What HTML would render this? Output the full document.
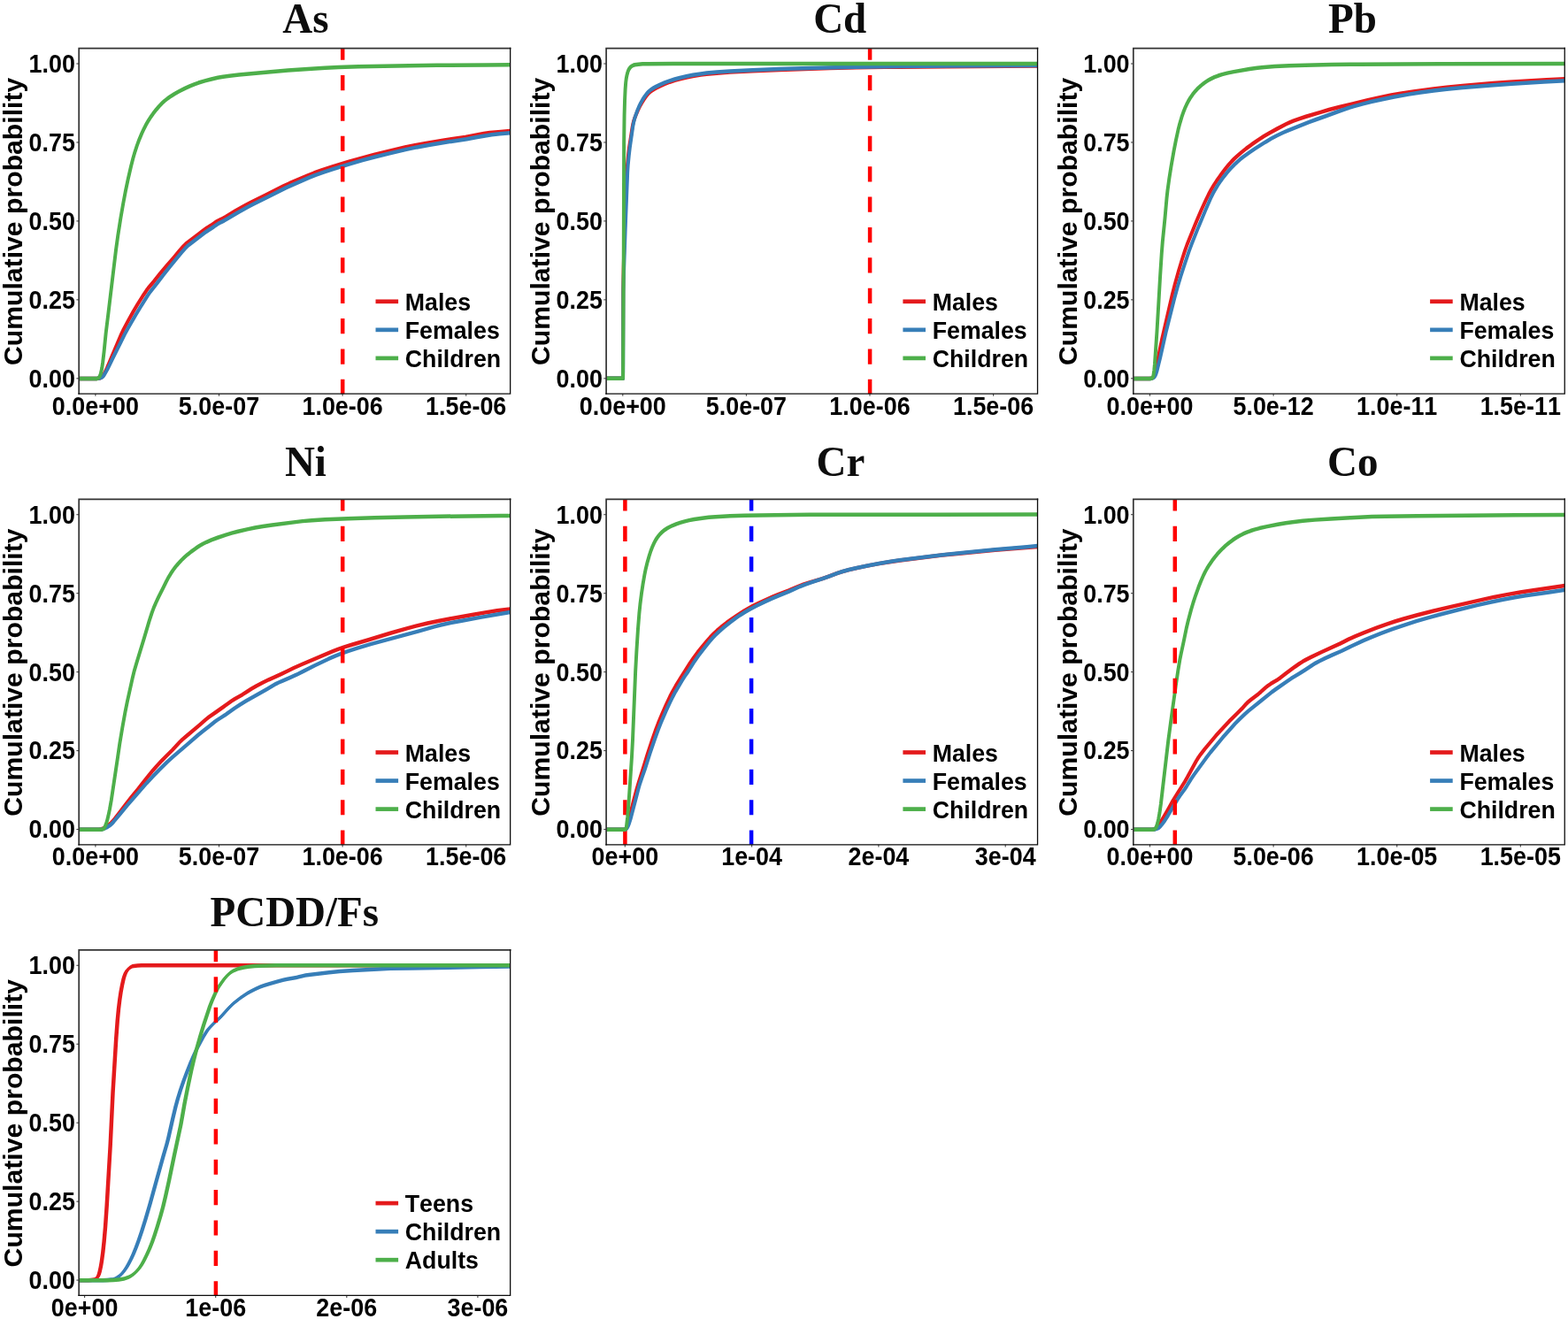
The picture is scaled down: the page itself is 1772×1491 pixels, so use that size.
<!DOCTYPE html>
<html lang="en"><head><meta charset="utf-8"><title>Cumulative probability of carcinogenic risk</title>
<style>
html,body{margin:0;padding:0;background:#fff}
body{width:1772px;height:1491px;overflow:hidden}
svg{display:block}
text{font-family:"Liberation Sans",sans-serif;font-weight:700;fill:#000;font-kerning:none}
.ttl{font-family:"Liberation Serif",serif;font-size:47.0px;text-anchor:middle;fill:#0d0d0d}
.ylab{font-size:30.2px;text-anchor:middle}
.ytk{font-size:26.6px;text-anchor:end}
.xtk{font-size:26.6px;text-anchor:middle}
.lg{font-size:26.6px}
.tk{stroke:#444;stroke-width:1.1}
.bx{fill:none;stroke:#333;stroke-width:1.7}
.bx2{fill:none;stroke:#0d0d0d;stroke-width:1.3}
.ln{fill:none;stroke-width:4.5;stroke-linejoin:round;stroke-linecap:butt}
.bd{stroke:none}
.vl{stroke-width:4.5;stroke-dasharray:17.2 17.18}
.lk{stroke-width:4.7}
</style></head>
<body>
<svg width="1772" height="1491" viewBox="0 0 1772 1491" role="img" aria-label="Cumulative probability curves">
<rect width="1772" height="1491" fill="#fff"/>
<g class="panel">
<text class="ttl" transform="translate(345.4 36.8) scale(1 1.03)">As</text>
<text class="ylab" transform="translate(25 250.4) rotate(-90)">Cumulative probability</text>
<line class="tk" x1="86.4" x2="89.2" y1="72" y2="72"/>
<text class="ytk" transform="translate(85 81.9) scale(1.012 1.1)">1.00</text>
<line class="tk" x1="86.4" x2="89.2" y1="160.95" y2="160.95"/>
<text class="ytk" transform="translate(85 170.85) scale(1.012 1.1)">0.75</text>
<line class="tk" x1="86.4" x2="89.2" y1="249.9" y2="249.9"/>
<text class="ytk" transform="translate(85 259.8) scale(1.012 1.1)">0.50</text>
<line class="tk" x1="86.4" x2="89.2" y1="338.85" y2="338.85"/>
<text class="ytk" transform="translate(85 348.75) scale(1.012 1.1)">0.25</text>
<line class="tk" x1="86.4" x2="89.2" y1="427.8" y2="427.8"/>
<text class="ytk" transform="translate(85 437.7) scale(1.012 1.1)">0.00</text>
<line class="tk" x1="107.9" x2="107.9" y1="445" y2="447.8"/>
<text class="xtk" transform="translate(107.9 468.7) scale(1.012 1.1)">0.0e+00</text>
<line class="tk" x1="247.5" x2="247.5" y1="445" y2="447.8"/>
<text class="xtk" transform="translate(247.5 468.7) scale(1.012 1.1)">5.0e-07</text>
<line class="tk" x1="387.1" x2="387.1" y1="445" y2="447.8"/>
<text class="xtk" transform="translate(387.1 468.7) scale(1.012 1.1)">1.0e-06</text>
<line class="tk" x1="526.7" x2="526.7" y1="445" y2="447.8"/>
<text class="xtk" transform="translate(526.7 468.7) scale(1.012 1.1)">1.5e-06</text>
<clipPath id="cAs"><rect x="89.2" y="54.6" width="487.4" height="390.4"/></clipPath>
<g clip-path="url(#cAs)">
<g class="cv" transform="scale(0.88 1)">
<path class="ln" d="M101.36,428 123.6,427.98 125.32,427.85 127.27,427.6 128.67,427.24 130.25,426.54 131.45,425.7 132.48,424.61 133.39,423.32 137.26,416.35 139.95,410.82 143.84,402.44 155.9,377.51 158.83,372.08 163.68,364.12 171.14,352.27 176.34,344.49 184.53,333.01 188.35,328.02 190.41,325.62 198.14,317.57 205.75,309.06 214.37,300.1 223.32,290.99 230.33,283.6 235.54,278.37 238.41,275.84 240.5,274.28 255.48,264.25 260.92,260.59 265.15,258.04 270.92,254.8 276.54,251.35 279.47,249.83 284.43,247.69 290.04,244.89 302.5,238.3 315.2,232.06 322.78,228.59 341.17,220.57 364.06,210.37 371.82,207.22 395.39,198.28 403.33,195.5 412.98,192.46 425.98,188.71 447.24,182.96 463.69,178.82 480.21,174.95 500.14,170.64 520.13,166.55 532.84,164.2 546.98,161.92 570.61,158.51 597.66,154.89 609.45,152.99 621.23,151.08 628.98,150.1 639.88,149.14 655.23,148" stroke="#e41a1c"/>
<path class="ln" d="M101.36,428 123.59,427.98 125.3,427.85 127.27,427.6 128.69,427.3 130.32,426.74 131.02,426.4 131.63,426.02 132.76,425.02 133.78,423.8 135.6,421.03 138.93,415.73 144.86,404.85 154.82,387.37 160.13,377.93 164.21,371.32 174.41,355.66 180.6,346.65 189.75,333.93 192.84,329.96 195.78,326.65 201.18,320.82 209.37,311.17 217.92,301.78 227.69,291.32 233.12,285.52 237.63,280.96 240,278.8 242.53,276.82 264.31,262.22 268.57,259.73 274.32,256.46 278.52,253.86 281.42,252.29 287.54,249.6 293.47,246.6 305,240.5 317.13,234.52 324.71,231.04 343.09,223.03 367.5,212.17 375.28,209.05 397.27,200.71 405.2,197.91 414.83,194.85 427.83,191.09 449.08,185.34 465.51,181.18 482.02,177.31 500.28,173.33 521.93,168.89 535.31,166.41 550.44,163.97 574.06,160.58 599.43,157.2 611.2,155.33 622.97,153.42 631.41,152.31 641.6,151.33 655.23,150.2" stroke="#377eb8"/>
<path class="ln" d="M101.36,428 124.66,428 125.21,427.9 126.66,426.97 127.84,425.6 128.51,424.45 129.12,423.04 130.04,420.02 131.03,415.61 131.99,409.64 133.57,397.68 135.95,376.71 138.89,355.81 145.6,306.51 148.88,282.61 151.47,266.22 154.89,246.9 158.09,230.59 161.28,215.81 164.44,202.55 168.27,187.88 170.81,179.14 173.18,171.92 175.84,164.75 178.8,157.71 182.1,150.75 185.01,145.28 188.16,139.97 190.76,136.08 193.56,132.27 196.54,128.57 200.72,123.84 204.07,120.38 207.62,117.06 211.36,114.01 215.32,111.25 219.53,108.66 223.92,106.23 229.92,103.24 237.51,99.86 243.76,97.34 250.13,95.05 254.96,93.55 263.1,91.4 271.39,89.46 279.77,87.81 286.51,86.73 294.93,85.7 306.81,84.55 344.33,81.59 369.87,79.54 395.44,77.88 417.63,76.63 434.71,75.93 460.34,75.35 525.3,74.31 561.2,73.75 624.45,73.42 655.23,73.3" stroke="#4daf4a"/>
</g>
<line class="vl" x1="387.2" x2="387.2" y1="446.05" y2="52.6" stroke="#ff0000"/>
</g>
<path class="bx" d="M89.2,445.7 V54.6 H577.4"/>
<path class="bx2" d="M88.4,445.1 H576.65 V53.8"/>
<line class="lk" x1="424.5" x2="450.1" y1="340.8" y2="340.8" stroke="#e41a1c"/>
<text class="lg" transform="translate(457.8 350.9) scale(1.005 1.04)">Males</text>
<line class="lk" x1="424.5" x2="450.1" y1="372.85" y2="372.85" stroke="#377eb8"/>
<text class="lg" transform="translate(457.8 382.95) scale(1.005 1.04)">Females</text>
<line class="lk" x1="424.5" x2="450.1" y1="404.9" y2="404.9" stroke="#4daf4a"/>
<text class="lg" transform="translate(457.8 415) scale(1.005 1.04)">Children</text>
</g>
<g class="panel">
<text class="ttl" transform="translate(949.2 36.8) scale(1 1.03)">Cd</text>
<text class="ylab" transform="translate(620.9 250.4) rotate(-90)">Cumulative probability</text>
<line class="tk" x1="682.3" x2="685.1" y1="72" y2="72"/>
<text class="ytk" transform="translate(680.9 81.9) scale(1.012 1.1)">1.00</text>
<line class="tk" x1="682.3" x2="685.1" y1="160.95" y2="160.95"/>
<text class="ytk" transform="translate(680.9 170.85) scale(1.012 1.1)">0.75</text>
<line class="tk" x1="682.3" x2="685.1" y1="249.9" y2="249.9"/>
<text class="ytk" transform="translate(680.9 259.8) scale(1.012 1.1)">0.50</text>
<line class="tk" x1="682.3" x2="685.1" y1="338.85" y2="338.85"/>
<text class="ytk" transform="translate(680.9 348.75) scale(1.012 1.1)">0.25</text>
<line class="tk" x1="682.3" x2="685.1" y1="427.8" y2="427.8"/>
<text class="ytk" transform="translate(680.9 437.7) scale(1.012 1.1)">0.00</text>
<line class="tk" x1="703.8" x2="703.8" y1="445" y2="447.8"/>
<text class="xtk" transform="translate(703.8 468.7) scale(1.012 1.1)">0.0e+00</text>
<line class="tk" x1="843.4" x2="843.4" y1="445" y2="447.8"/>
<text class="xtk" transform="translate(843.4 468.7) scale(1.012 1.1)">5.0e-07</text>
<line class="tk" x1="983" x2="983" y1="445" y2="447.8"/>
<text class="xtk" transform="translate(983 468.7) scale(1.012 1.1)">1.0e-06</text>
<line class="tk" x1="1122.6" x2="1122.6" y1="445" y2="447.8"/>
<text class="xtk" transform="translate(1122.6 468.7) scale(1.012 1.1)">1.5e-06</text>
<clipPath id="cCd"><rect x="685.1" y="54.6" width="487.4" height="390.4"/></clipPath>
<g clip-path="url(#cCd)">
<g class="cv" transform="scale(0.88 1)">
<path class="ln" d="M778.52,427.8 799.89,427.8 800,419.5 800.26,329.18 800.69,306.61 801.56,276.51 803.51,229.87 805.15,193.77 805.83,184.76 806.96,174.26 807.97,166.8 810.67,151.92 811.94,144.45 812.89,140.03 813.7,137.13 814.75,134.27 816.61,130.03 819.3,124.49 821.54,120.4 824.01,116.44 826.73,112.61 829.75,108.82 831.94,106.47 833.09,105.38 834.77,104 836.84,102.58 839.68,100.93 842.7,99.41 847.4,97.35 853.64,94.91 860.04,92.73 866.56,90.83 873.13,89.21 881.47,87.48 889.86,86.03 899.99,84.53 907.39,83.7 920.39,82.64 937.47,81.6 966.5,80.22 1000.69,78.94 1065.66,77.01 1099.86,76.24 1135.78,75.8 1214.46,75.23 1332.5,74.6" stroke="#e41a1c"/>
<path class="ln" d="M778.52,427.8 800.11,427.8 800.23,419.71 800.48,330.89 800.84,315.85 803.12,257.17 805.93,193.99 806.5,186.49 807.65,175.99 809.05,165.53 812.74,143.16 813.67,138.74 814.9,134.36 816.43,130.03 818.74,124.37 820.74,120.18 823.01,116.11 825.53,112.22 828.42,108.36 830.54,105.92 832.83,103.71 834.32,102.5 836.61,100.95 839.47,99.33 842.53,97.85 847.26,95.84 853.53,93.47 859.96,91.36 866.51,89.52 873.09,87.95 881.44,86.25 889.84,84.84 899.98,83.4 907.39,82.6 920.39,81.58 937.47,80.58 966.51,79.28 1000.7,78.08 1060.54,76.44 1098.16,75.65 1137.5,75.19 1221.31,74.6 1332.5,74" stroke="#377eb8"/>
<path class="ln" d="M778.52,427.8 800,427.8 800.2,410.63 800.92,276.86 801.3,162.64 801.78,131.08 802.34,113.05 802.96,101.02 803.61,93.53 804.22,89.05 805.2,84.59 806.07,81.73 806.66,80.26 807.38,78.81 808.23,77.46 809.32,76.2 810.35,75.36 811.81,74.44 813.42,73.71 815.04,73.29 819.97,72.72 825.16,72.36 832.07,72.18 864.52,72 1332.5,71.9" stroke="#4daf4a"/>
</g>
<line class="vl" x1="983.1" x2="983.1" y1="446.05" y2="52.6" stroke="#ff0000"/>
</g>
<path class="bx" d="M685.1,445.7 V54.6 H1173.3"/>
<path class="bx2" d="M684.3,445.1 H1172.55 V53.8"/>
<line class="lk" x1="1020.4" x2="1046" y1="340.8" y2="340.8" stroke="#e41a1c"/>
<text class="lg" transform="translate(1053.7 350.9) scale(1.005 1.04)">Males</text>
<line class="lk" x1="1020.4" x2="1046" y1="372.85" y2="372.85" stroke="#377eb8"/>
<text class="lg" transform="translate(1053.7 382.95) scale(1.005 1.04)">Females</text>
<line class="lk" x1="1020.4" x2="1046" y1="404.9" y2="404.9" stroke="#4daf4a"/>
<text class="lg" transform="translate(1053.7 415) scale(1.005 1.04)">Children</text>
</g>
<g class="panel">
<text class="ttl" transform="translate(1528.4 36.8) scale(1 1.03)">Pb</text>
<text class="ylab" transform="translate(1216.6 250.4) rotate(-90)">Cumulative probability</text>
<line class="tk" x1="1278" x2="1280.8" y1="72" y2="72"/>
<text class="ytk" transform="translate(1276.6 81.9) scale(1.012 1.1)">1.00</text>
<line class="tk" x1="1278" x2="1280.8" y1="160.95" y2="160.95"/>
<text class="ytk" transform="translate(1276.6 170.85) scale(1.012 1.1)">0.75</text>
<line class="tk" x1="1278" x2="1280.8" y1="249.9" y2="249.9"/>
<text class="ytk" transform="translate(1276.6 259.8) scale(1.012 1.1)">0.50</text>
<line class="tk" x1="1278" x2="1280.8" y1="338.85" y2="338.85"/>
<text class="ytk" transform="translate(1276.6 348.75) scale(1.012 1.1)">0.25</text>
<line class="tk" x1="1278" x2="1280.8" y1="427.8" y2="427.8"/>
<text class="ytk" transform="translate(1276.6 437.7) scale(1.012 1.1)">0.00</text>
<line class="tk" x1="1299.5" x2="1299.5" y1="445" y2="447.8"/>
<text class="xtk" transform="translate(1299.5 468.7) scale(1.012 1.1)">0.0e+00</text>
<line class="tk" x1="1439.1" x2="1439.1" y1="445" y2="447.8"/>
<text class="xtk" transform="translate(1439.1 468.7) scale(1.012 1.1)">5.0e-12</text>
<line class="tk" x1="1578.7" x2="1578.7" y1="445" y2="447.8"/>
<text class="xtk" transform="translate(1578.7 468.7) scale(1.012 1.1)">1.0e-11</text>
<line class="tk" x1="1718.3" x2="1718.3" y1="445" y2="447.8"/>
<text class="xtk" transform="translate(1718.3 468.7) scale(1.012 1.1)">1.5e-11</text>
<clipPath id="cPb"><rect x="1280.8" y="54.6" width="487.4" height="390.4"/></clipPath>
<g clip-path="url(#cPb)">
<g class="cv" transform="scale(0.88 1)">
<path class="ln" d="M1455.45,428 1476.14,428 1477.75,427.85 1479.55,427.4 1480.72,426.64 1481.8,425.32 1482.45,424.03 1482.95,422.63 1483.71,419.64 1488.88,397.43 1492.01,384.16 1505.47,332.79 1508.88,321.12 1513.95,305.17 1517.91,293.63 1521.6,283.6 1524.46,276.51 1528.91,266.72 1536.61,249.96 1542.69,237.5 1548.4,226.55 1552.13,219.75 1555.32,214.44 1558.81,209.27 1562.56,204.22 1567.51,198.05 1573.69,190.83 1578.02,186.13 1581.41,182.75 1584.96,179.52 1588.7,176.44 1593.91,172.49 1600.57,167.76 1607.46,163.28 1615.91,158.15 1623.1,154.05 1630.44,150.2 1639.46,145.86 1651.61,140.27 1656.24,138.32 1660.96,136.6 1667.4,134.54 1677.17,131.74 1696.86,126.59 1706.71,124.04 1719.97,121.05 1756.54,113.11 1773.25,109.87 1786.68,107.5 1798.48,105.69 1815.4,103.45 1840.85,100.45 1857.85,98.7 1878.3,96.99 1917.52,93.99 1938,92.76 1986.02,90.2 2009.77,89.2" stroke="#e41a1c"/>
<path class="ln" d="M1455.45,428 1476.14,428 1477.7,427.89 1480.11,427.4 1480.95,427.07 1482.38,426.09 1482.84,425.6 1483.28,425 1484,423.79 1484.63,422.47 1485.68,419.56 1487.81,411.92 1489.87,404.63 1497.77,373.8 1501.96,359.22 1508.19,337.33 1512.22,324.27 1516.15,312.74 1520.38,301.3 1526.93,283.9 1530.44,275.71 1538,258.93 1547.82,238.09 1554.64,224.28 1557.39,219.3 1560.1,214.93 1563.64,209.76 1567.4,204.74 1571.42,199.87 1575.7,195.16 1580.19,190.64 1584.94,186.28 1588.65,183.16 1592.49,180.19 1596.51,177.39 1604.83,172.1 1611.92,167.89 1624.92,160.64 1632.27,156.8 1639.81,153.26 1647.5,149.98 1653.75,147.55 1680.76,138.08 1690.4,135.01 1701.67,131.49 1720.93,125.26 1729.01,122.79 1738.81,120.16 1750.35,117.36 1761.97,114.82 1775.31,112.2 1790.4,109.53 1808.91,106.61 1824.11,104.5 1841.05,102.5 1858.03,100.78 1878.45,99.07 1914.23,96.42 1941.51,94.71 1982.45,92.47 2009.77,91.3" stroke="#377eb8"/>
<path class="ln" d="M1455.45,428 1478.07,428 1479.31,427.54 1480.47,426.37 1480.98,425.14 1481.36,423.68 1482.09,418.98 1482.92,411.5 1485.71,375.45 1487.72,345.4 1489.88,312.34 1491.76,286.8 1492.98,273.3 1496.06,246.35 1498.32,223.85 1499.46,214.88 1501.59,201.46 1503.96,188.08 1507.52,170.29 1510.14,158.47 1513.06,146.7 1515.16,139.42 1517.59,132.18 1519.83,126.49 1521.72,122.31 1523.85,118.17 1526.22,114.13 1528.82,110.29 1531.76,106.59 1535.03,103.03 1538.55,99.73 1542.29,96.72 1546.35,93.88 1549.19,92.12 1552.1,90.52 1555.06,89.11 1559.69,87.2 1564.51,85.51 1569.4,84.1 1575.99,82.63 1584.38,81.11 1604.66,78.1 1614.82,76.77 1623.32,75.92 1636.94,75.08 1655.74,74.24 1676.27,73.66 1710.46,73.04 1744.67,72.74 1850.71,72.3 2009.77,71.9" stroke="#4daf4a"/>
</g>
</g>
<path class="bx" d="M1280.8,445.7 V54.6 H1769"/>
<path class="bx2" d="M1280,445.1 H1768.25 V53.8"/>
<line class="lk" x1="1616.1" x2="1641.7" y1="340.8" y2="340.8" stroke="#e41a1c"/>
<text class="lg" transform="translate(1649.4 350.9) scale(1.005 1.04)">Males</text>
<line class="lk" x1="1616.1" x2="1641.7" y1="372.85" y2="372.85" stroke="#377eb8"/>
<text class="lg" transform="translate(1649.4 382.95) scale(1.005 1.04)">Females</text>
<line class="lk" x1="1616.1" x2="1641.7" y1="404.9" y2="404.9" stroke="#4daf4a"/>
<text class="lg" transform="translate(1649.4 415) scale(1.005 1.04)">Children</text>
</g>
<g class="panel">
<text class="ttl" transform="translate(345.4 537.8) scale(1 1.03)">Ni</text>
<text class="ylab" transform="translate(25 760.1) rotate(-90)">Cumulative probability</text>
<line class="tk" x1="86.4" x2="89.2" y1="581.7" y2="581.7"/>
<text class="ytk" transform="translate(85 591.6) scale(1.012 1.1)">1.00</text>
<line class="tk" x1="86.4" x2="89.2" y1="670.65" y2="670.65"/>
<text class="ytk" transform="translate(85 680.55) scale(1.012 1.1)">0.75</text>
<line class="tk" x1="86.4" x2="89.2" y1="759.6" y2="759.6"/>
<text class="ytk" transform="translate(85 769.5) scale(1.012 1.1)">0.50</text>
<line class="tk" x1="86.4" x2="89.2" y1="848.55" y2="848.55"/>
<text class="ytk" transform="translate(85 858.45) scale(1.012 1.1)">0.25</text>
<line class="tk" x1="86.4" x2="89.2" y1="937.5" y2="937.5"/>
<text class="ytk" transform="translate(85 947.4) scale(1.012 1.1)">0.00</text>
<line class="tk" x1="107.9" x2="107.9" y1="954.7" y2="957.5"/>
<text class="xtk" transform="translate(107.9 978.4) scale(1.012 1.1)">0.0e+00</text>
<line class="tk" x1="247.5" x2="247.5" y1="954.7" y2="957.5"/>
<text class="xtk" transform="translate(247.5 978.4) scale(1.012 1.1)">5.0e-07</text>
<line class="tk" x1="387.1" x2="387.1" y1="954.7" y2="957.5"/>
<text class="xtk" transform="translate(387.1 978.4) scale(1.012 1.1)">1.0e-06</text>
<line class="tk" x1="526.7" x2="526.7" y1="954.7" y2="957.5"/>
<text class="xtk" transform="translate(526.7 978.4) scale(1.012 1.1)">1.5e-06</text>
<clipPath id="cNi"><rect x="89.2" y="564.3" width="487.4" height="390.4"/></clipPath>
<g clip-path="url(#cNi)">
<g class="cv" transform="scale(0.88 1)">
<path class="ln" d="M101.36,937.8 125.31,937.8 127.04,937.7 130.4,937.25 131.99,936.72 136.49,934.47 139.33,932.74 141.93,930.84 144.29,928.7 147.58,925.18 152.86,919.24 162.16,908.44 168.54,901.37 177.21,892.05 188.8,879 196.38,870.84 200.88,866.3 207.9,859.71 213.89,854.34 221.59,847.62 230.49,839.14 234.15,836 239.35,832.08 256.37,819.48 264.09,813.51 268.11,810.71 276.5,805.51 291.87,795.94 297.4,792.39 301.69,789.94 311.36,785.16 317.86,781.46 322.61,778.78 329.57,775.24 337.13,771.71 345.11,768.3 358.9,762.93 368.15,759.03 377.36,755.03 388.29,750.74 426.15,736.69 434.11,733.94 442.15,731.44 451.95,728.77 473.31,723.27 501.13,715.79 522.51,710.38 534.08,707.68 549.05,704.53 564.11,701.68 577.55,699.43 607.89,694.77 626.42,691.9 638.26,690.35 655.23,688.4" stroke="#e41a1c"/>
<path class="ln" d="M101.36,937.8 125.3,937.8 128.73,937.63 130.41,937.47 132.08,937.11 135.28,936.05 136.83,935.4 138.36,934.65 141.2,932.98 142.49,932.07 143.72,931.05 146.03,928.81 153.74,920.67 163.53,910.22 172.48,901.12 188.26,885.28 196.38,877.54 204.72,869.99 214.5,861.57 222.02,855.43 241.51,840.75 254.43,830.9 261.1,826.2 269.15,820.59 275.82,815.88 278.58,814.12 284.36,810.9 288.98,808.31 295.63,804.08 301.2,800.59 308.36,796.48 315.68,792.59 342.41,779.17 354.25,773.12 357.29,771.76 363.56,769.36 371.43,766.41 380.78,762.7 389.96,758.67 403.65,752.47 422.21,744.72 431.6,741.07 439.52,738.3 447.57,735.8 458.98,732.6 477.03,727.91 538.09,713.33 557.83,708.34 566.1,706.47 576.11,704.53 592.9,701.67 618.14,697.63 650.17,692.84 655.23,692.1" stroke="#377eb8"/>
<path class="ln" d="M101.36,937.8 128.74,937.8 130.56,937.63 132.61,937.1 133.37,936.6 134.33,935.37 135.13,933.83 136.41,930.92 137.44,928.06 139.1,922.17 140.88,914.81 142.97,904.43 150.79,858.26 153.77,840.38 157.13,822.56 160.79,804.77 163.48,792.97 170.53,765.03 172.62,757.74 175.53,749.07 184.97,721.69 191.79,701.49 194.98,692.89 197.33,687.24 200,681.69 203.61,674.87 209.8,664.12 213.53,657.33 215.95,653.36 219.46,648.18 222.31,644.41 225.37,640.81 228.68,637.33 232.84,633.4 237.06,629.82 240.94,626.83 245.68,623.5 251.86,619.56 256.18,617.06 260.62,614.8 265.17,612.81 271.46,610.41 279.5,607.74 289.22,604.85 297.43,602.68 305.69,600.75 317.35,598.34 327.42,596.5 337.52,594.93 349.36,593.42 381.65,589.88 388.44,589.12 400.36,588.27 417.44,587.37 446.51,586.24 480.72,585.21 520.06,584.38 564.54,583.73 643.25,583.09 655.23,583" stroke="#4daf4a"/>
</g>
<line class="vl" x1="387.2" x2="387.2" y1="955.75" y2="562.3" stroke="#ff0000"/>
</g>
<path class="bx" d="M89.2,955.4 V564.3 H577.4"/>
<path class="bx2" d="M88.4,954.8 H576.65 V563.5"/>
<line class="lk" x1="424.5" x2="450.1" y1="850.5" y2="850.5" stroke="#e41a1c"/>
<text class="lg" transform="translate(457.8 860.6) scale(1.005 1.04)">Males</text>
<line class="lk" x1="424.5" x2="450.1" y1="882.55" y2="882.55" stroke="#377eb8"/>
<text class="lg" transform="translate(457.8 892.65) scale(1.005 1.04)">Females</text>
<line class="lk" x1="424.5" x2="450.1" y1="914.6" y2="914.6" stroke="#4daf4a"/>
<text class="lg" transform="translate(457.8 924.7) scale(1.005 1.04)">Children</text>
</g>
<g class="panel">
<text class="ttl" transform="translate(949.9 537.8) scale(1 1.03)">Cr</text>
<text class="ylab" transform="translate(620.9 760.1) rotate(-90)">Cumulative probability</text>
<line class="tk" x1="682.3" x2="685.1" y1="581.7" y2="581.7"/>
<text class="ytk" transform="translate(680.9 591.6) scale(1.012 1.1)">1.00</text>
<line class="tk" x1="682.3" x2="685.1" y1="670.65" y2="670.65"/>
<text class="ytk" transform="translate(680.9 680.55) scale(1.012 1.1)">0.75</text>
<line class="tk" x1="682.3" x2="685.1" y1="759.6" y2="759.6"/>
<text class="ytk" transform="translate(680.9 769.5) scale(1.012 1.1)">0.50</text>
<line class="tk" x1="682.3" x2="685.1" y1="848.55" y2="848.55"/>
<text class="ytk" transform="translate(680.9 858.45) scale(1.012 1.1)">0.25</text>
<line class="tk" x1="682.3" x2="685.1" y1="937.5" y2="937.5"/>
<text class="ytk" transform="translate(680.9 947.4) scale(1.012 1.1)">0.00</text>
<line class="tk" x1="706.3" x2="706.3" y1="954.7" y2="957.5"/>
<text class="xtk" transform="translate(706.3 978.4) scale(1.012 1.1)">0e+00</text>
<line class="tk" x1="849.6" x2="849.6" y1="954.7" y2="957.5"/>
<text class="xtk" transform="translate(849.6 978.4) scale(1.012 1.1)">1e-04</text>
<line class="tk" x1="992.9" x2="992.9" y1="954.7" y2="957.5"/>
<text class="xtk" transform="translate(992.9 978.4) scale(1.012 1.1)">2e-04</text>
<line class="tk" x1="1136.2" x2="1136.2" y1="954.7" y2="957.5"/>
<text class="xtk" transform="translate(1136.2 978.4) scale(1.012 1.1)">3e-04</text>
<clipPath id="cCr"><rect x="685.1" y="564.3" width="487.4" height="390.4"/></clipPath>
<g clip-path="url(#cCr)">
<line class="vl" x1="706.4" x2="706.4" y1="955.75" y2="562.3" stroke="#ff0000"/>
<line class="vl" x1="849.1" x2="849.1" y1="955.75" y2="562.3" stroke="#0000ff"/>
<g class="cv" transform="scale(0.88 1)">
<path class="ln" d="M778.52,937.8 800.76,937.77 802.52,937.5 803.18,937.31 803.84,936.89 804.86,935.53 805.53,934.16 806.04,932.76 806.83,929.81 807.95,925.35 813.29,906.37 817.2,893.28 820.09,884.62 826.25,867.41 831.31,853.04 837.2,837.33 841.67,825.96 845.3,817.52 850.52,806.4 855.36,796.77 860.47,787.25 863.59,781.9 867.77,775.34 871.3,770.19 879.48,758.72 885.87,749.82 890.71,743.63 895.8,737.58 901.09,731.68 907.67,724.73 912.23,720.23 916.98,715.94 920.72,712.88 925.93,708.96 933.07,704 939.53,699.84 946.6,695.6 955.24,690.74 961.12,687.66 967.12,684.81 974.84,681.58 993.5,674.07 999.82,671.78 1013.18,667.45 1020.52,664.67 1026.8,662.29 1031.59,660.73 1039.72,658.4 1056.08,654.05 1064.16,651.56 1075.42,647.96 1081.91,646.11 1090.14,644.17 1100.13,642.11 1113.53,639.65 1128.64,637.14 1142.13,635.15 1155.66,633.44 1209.95,627.59 1228.65,625.91 1277.99,621.8 1332.5,617.93" stroke="#e41a1c"/>
<path class="ln" d="M778.52,937.8 800.76,937.78 802.53,937.61 803.64,937.4 804.02,937.24 805.2,936.07 806.09,934.78 806.82,933.44 808.04,930.58 809.6,926.27 816.16,904.46 819.96,891.34 821.86,885.57 824.65,878.47 828.08,869.96 834.82,851.33 840.88,835.67 845.5,824.35 848.64,817.36 855.4,803.55 860.4,793.99 864.18,787.24 867.41,781.94 876.1,768.99 878.84,765.18 883.71,759 891.92,747.55 896.81,741.39 902.98,734.18 910.45,725.94 914.93,721.39 918.45,718.14 923.4,714 929.86,709.04 937.81,703.35 944.64,698.81 950.27,695.42 956.06,692.23 963.49,688.49 971.02,684.96 981.14,680.6 991.11,676.6 1000.54,673.07 1013.23,668.58 1027.25,663.01 1033.61,660.83 1044.92,657.39 1056.31,654.17 1065.95,651.04 1075.56,647.87 1082.04,645.98 1090.25,644.02 1100.23,641.94 1115.31,639.18 1130.42,636.68 1143.91,634.7 1157.44,633.01 1196.44,628.71 1213.41,626.92 1240.62,624.55 1278.03,621.29 1318.89,618.2 1332.5,617.1" stroke="#377eb8"/>
<path class="ln" d="M778.52,937.8 802.5,937.8 803.76,936.8 804.23,935.49 804.53,934.02 805.89,923.42 807.44,906.92 811.33,855.88 812.5,836.35 816.04,759.68 817.52,735.65 819.25,711.62 820.87,693.62 822.06,683.15 823.79,671.2 825.55,660.79 827.88,648.93 829.25,643.03 831.32,635.73 833.65,628.49 835.75,622.76 837.58,618.54 839.66,614.41 842.05,610.41 843.87,607.84 845.9,605.47 848.19,603.19 850.67,601.07 853.3,599.2 856.12,597.54 859.11,596.02 863.75,594.03 868.48,592.32 873.35,590.83 878.27,589.58 884.92,588.15 891.64,586.99 901.78,585.66 910.28,584.79 918.8,584.2 937.57,583.33 956.38,582.76 995.69,582.2 1040.15,581.85 1202.57,581.67 1332.5,581.6" stroke="#4daf4a"/>
</g>
</g>
<path class="bx" d="M685.1,955.4 V564.3 H1173.3"/>
<path class="bx2" d="M684.3,954.8 H1172.55 V563.5"/>
<line class="lk" x1="1020.4" x2="1046" y1="850.5" y2="850.5" stroke="#e41a1c"/>
<text class="lg" transform="translate(1053.7 860.6) scale(1.005 1.04)">Males</text>
<line class="lk" x1="1020.4" x2="1046" y1="882.55" y2="882.55" stroke="#377eb8"/>
<text class="lg" transform="translate(1053.7 892.65) scale(1.005 1.04)">Females</text>
<line class="lk" x1="1020.4" x2="1046" y1="914.6" y2="914.6" stroke="#4daf4a"/>
<text class="lg" transform="translate(1053.7 924.7) scale(1.005 1.04)">Children</text>
</g>
<g class="panel">
<text class="ttl" transform="translate(1528.7 537.8) scale(1 1.03)">Co</text>
<text class="ylab" transform="translate(1216.6 760.1) rotate(-90)">Cumulative probability</text>
<line class="tk" x1="1278" x2="1280.8" y1="581.7" y2="581.7"/>
<text class="ytk" transform="translate(1276.6 591.6) scale(1.012 1.1)">1.00</text>
<line class="tk" x1="1278" x2="1280.8" y1="670.65" y2="670.65"/>
<text class="ytk" transform="translate(1276.6 680.55) scale(1.012 1.1)">0.75</text>
<line class="tk" x1="1278" x2="1280.8" y1="759.6" y2="759.6"/>
<text class="ytk" transform="translate(1276.6 769.5) scale(1.012 1.1)">0.50</text>
<line class="tk" x1="1278" x2="1280.8" y1="848.55" y2="848.55"/>
<text class="ytk" transform="translate(1276.6 858.45) scale(1.012 1.1)">0.25</text>
<line class="tk" x1="1278" x2="1280.8" y1="937.5" y2="937.5"/>
<text class="ytk" transform="translate(1276.6 947.4) scale(1.012 1.1)">0.00</text>
<line class="tk" x1="1299.5" x2="1299.5" y1="954.7" y2="957.5"/>
<text class="xtk" transform="translate(1299.5 978.4) scale(1.012 1.1)">0.0e+00</text>
<line class="tk" x1="1439.1" x2="1439.1" y1="954.7" y2="957.5"/>
<text class="xtk" transform="translate(1439.1 978.4) scale(1.012 1.1)">5.0e-06</text>
<line class="tk" x1="1578.7" x2="1578.7" y1="954.7" y2="957.5"/>
<text class="xtk" transform="translate(1578.7 978.4) scale(1.012 1.1)">1.0e-05</text>
<line class="tk" x1="1718.3" x2="1718.3" y1="954.7" y2="957.5"/>
<text class="xtk" transform="translate(1718.3 978.4) scale(1.012 1.1)">1.5e-05</text>
<clipPath id="cCo"><rect x="1280.8" y="564.3" width="487.4" height="390.4"/></clipPath>
<g clip-path="url(#cCo)">
<g class="cv" transform="scale(0.88 1)">
<path class="ln" d="M1455.45,937.8 1477.72,937.79 1479.46,937.67 1482.39,937.2 1482.78,937.1 1484.33,936.4 1485.8,935.4 1486.82,934.39 1490.58,929.29 1494.95,922.81 1500.86,913.62 1506.14,905.3 1512.14,896.73 1521.29,883.99 1524.71,878.77 1536.22,860.24 1538.92,856.41 1541.87,852.71 1547.09,846.73 1561.4,831.71 1567.15,826.13 1578.3,815.52 1588.56,806.62 1594.64,801.31 1600.35,795.67 1602.78,793.58 1605.42,791.67 1616.27,784.28 1618.91,782.36 1625.24,777.27 1627.93,775.42 1632.15,772.84 1636.5,770.42 1640.93,768.13 1643.76,766.45 1651.87,760.88 1662.93,753.71 1668.57,750.28 1672.9,747.86 1677.33,745.63 1683.43,742.88 1697.35,737.02 1720.7,727.58 1725.3,725.57 1731.82,722.62 1740.75,719.1 1751.84,715.06 1767.83,709.64 1780.72,705.54 1792.1,702.22 1803.58,699.21 1820.12,695.28 1840.03,690.79 1863.35,685.87 1903.44,677.85 1918.49,674.91 1933.62,672.35 1952.19,669.56 1969.12,667.27 1996.23,663.73 2009.77,661.9" stroke="#e41a1c"/>
<path class="ln" d="M1455.45,937.8 1477.72,937.8 1481.15,937.61 1482.84,937.45 1484.56,937.12 1486.82,936.4 1487.63,936.02 1488.94,935.14 1490.18,934.05 1493.54,930.43 1495.54,928.01 1500.09,921.59 1506.98,911.16 1512.35,903.45 1515.19,899.69 1521.24,892.37 1524.04,888.59 1529.37,880.85 1533.24,875.88 1548.32,857.57 1554.55,850.38 1570.23,833.68 1581.21,822.85 1586.25,817.89 1591.76,812.97 1599.2,806.73 1603.04,803.74 1619.08,792.42 1633.73,782 1639.3,778.48 1653.38,769.89 1658.41,766.84 1669.29,761.04 1676.5,756.96 1685.07,751.95 1689.45,749.6 1693.95,747.46 1701.66,744.16 1711.02,740.4 1722.5,735.98 1735.89,730.28 1751.43,723.94 1761.59,720.08 1773.59,715.9 1788.07,711.22 1804.26,706.33 1818.95,702.19 1833.73,698.34 1851.9,693.97 1871.81,689.46 1896.78,684.16 1915.15,680.46 1930.25,677.74 1945.41,675.27 1958.93,673.33 1989.46,669.55 2009.77,666.8" stroke="#377eb8"/>
<path class="ln" d="M1455.45,937.8 1480.45,937.8 1481.09,937.74 1482.79,937.13 1483.64,936.6 1483.98,936.28 1484.82,935.04 1485.5,933.53 1486.52,930.6 1487.68,926.2 1489.19,918.78 1490.87,908.35 1492.65,894.9 1500.18,838.12 1503.56,815.75 1509.89,775.52 1512.92,757.66 1515.18,745.79 1516.82,738.41 1520.43,723.7 1523.51,710.44 1525.89,701.66 1529.39,690.02 1532.29,681.37 1535.49,672.79 1538.94,664.29 1542.07,657.29 1545.46,650.37 1547.84,646.1 1550.2,642.39 1552.91,638.54 1556.78,633.58 1559.88,629.97 1563.15,626.48 1566.57,623.14 1570.17,619.91 1573.94,616.81 1578.3,613.6 1583.32,610.3 1587.61,607.76 1592.03,605.45 1596.57,603.44 1601.28,601.63 1606.1,600.01 1610.97,598.63 1617.55,597.07 1625.91,595.4 1641.02,592.77 1651.13,591.22 1659.59,590.17 1673.18,588.83 1688.51,587.63 1708.97,586.39 1734.58,585.18 1761.91,584.1 1779,583.68 1820.02,583.2 1946.52,582.29 2009.77,581.9" stroke="#4daf4a"/>
</g>
<line class="vl" x1="1327.8" x2="1327.8" y1="955.75" y2="562.3" stroke="#ff0000"/>
</g>
<path class="bx" d="M1280.8,955.4 V564.3 H1769"/>
<path class="bx2" d="M1280,954.8 H1768.25 V563.5"/>
<line class="lk" x1="1616.1" x2="1641.7" y1="850.5" y2="850.5" stroke="#e41a1c"/>
<text class="lg" transform="translate(1649.4 860.6) scale(1.005 1.04)">Males</text>
<line class="lk" x1="1616.1" x2="1641.7" y1="882.55" y2="882.55" stroke="#377eb8"/>
<text class="lg" transform="translate(1649.4 892.65) scale(1.005 1.04)">Females</text>
<line class="lk" x1="1616.1" x2="1641.7" y1="914.6" y2="914.6" stroke="#4daf4a"/>
<text class="lg" transform="translate(1649.4 924.7) scale(1.005 1.04)">Children</text>
</g>
<g class="panel">
<text class="ttl" transform="translate(332.8 1046.5) scale(1 1.03)">PCDD/Fs</text>
<text class="ylab" transform="translate(25 1269.7) rotate(-90)">Cumulative probability</text>
<line class="tk" x1="86.4" x2="89.2" y1="1091.3" y2="1091.3"/>
<text class="ytk" transform="translate(85 1101.2) scale(1.012 1.1)">1.00</text>
<line class="tk" x1="86.4" x2="89.2" y1="1180.25" y2="1180.25"/>
<text class="ytk" transform="translate(85 1190.15) scale(1.012 1.1)">0.75</text>
<line class="tk" x1="86.4" x2="89.2" y1="1269.2" y2="1269.2"/>
<text class="ytk" transform="translate(85 1279.1) scale(1.012 1.1)">0.50</text>
<line class="tk" x1="86.4" x2="89.2" y1="1358.15" y2="1358.15"/>
<text class="ytk" transform="translate(85 1368.05) scale(1.012 1.1)">0.25</text>
<line class="tk" x1="86.4" x2="89.2" y1="1447.1" y2="1447.1"/>
<text class="ytk" transform="translate(85 1457) scale(1.012 1.1)">0.00</text>
<line class="tk" x1="95.6" x2="95.6" y1="1464.3" y2="1467.1"/>
<text class="xtk" transform="translate(95.6 1488) scale(1.012 1.1)">0e+00</text>
<line class="tk" x1="243.7" x2="243.7" y1="1464.3" y2="1467.1"/>
<text class="xtk" transform="translate(243.7 1488) scale(1.012 1.1)">1e-06</text>
<line class="tk" x1="391.8" x2="391.8" y1="1464.3" y2="1467.1"/>
<text class="xtk" transform="translate(391.8 1488) scale(1.012 1.1)">2e-06</text>
<line class="tk" x1="539.9" x2="539.9" y1="1464.3" y2="1467.1"/>
<text class="xtk" transform="translate(539.9 1488) scale(1.012 1.1)">3e-06</text>
<clipPath id="cPCDD"><rect x="89.2" y="1073.9" width="487.4" height="390.4"/></clipPath>
<g clip-path="url(#cPCDD)">
<g class="cv">
<path class="bd" d="M89.2,1444.95 99.73,1444.94 102.82,1444.78 106.2,1444.35 107.13,1444.05 108.49,1443.23 109.69,1442.14 110.54,1441.02 111.18,1439.8 111.72,1438.42 112.6,1435.39 113.92,1429.46 114.94,1423.52 116.35,1413.08 117.62,1401.11 119.03,1384.63 120.68,1360.63 124.65,1293.07 126.45,1255.52 127.52,1232.99 131.26,1171.45 132.71,1151.95 133.98,1138.48 135.25,1128.03 136.59,1119.11 137.95,1111.7 139.61,1104.33 140.43,1101.41 141.44,1098.65 142.09,1097.28 142.85,1095.92 143.73,1094.61 144.68,1093.43 145.7,1092.45 146.87,1091.57 148.2,1090.75 149.63,1090.09 151.3,1089.65 155.46,1089.23 160.04,1088.99 576.6,1088.95 L576.6,1093.45 160.04,1093.49 155.46,1093.73 151.3,1094.15 149.63,1094.59 148.2,1095.25 146.87,1096.07 145.7,1096.95 144.68,1097.93 143.73,1099.11 142.85,1100.42 142.09,1101.78 141.44,1103.15 140.43,1105.91 139.61,1108.83 137.95,1116.2 136.59,1123.61 135.25,1132.53 133.98,1142.98 132.71,1156.45 131.26,1175.95 127.52,1237.49 126.45,1260.02 124.65,1297.57 120.68,1365.13 119.03,1389.13 117.62,1405.61 116.35,1417.58 114.94,1428.02 113.92,1433.96 112.6,1439.89 111.72,1442.92 111.18,1444.3 110.54,1445.52 109.69,1446.64 108.49,1447.73 107.13,1448.55 106.2,1448.85 102.82,1449.28 99.73,1449.44 89.2,1449.45Z" fill="#e41a1c"/>
<path class="bd" d="M86.95,1447.2 97.48,1447.19 100.57,1447.03 103.95,1446.6 104.88,1446.3 106.24,1445.48 107.44,1444.39 108.29,1443.27 108.93,1442.05 109.47,1440.67 110.35,1437.64 111.67,1431.71 112.69,1425.77 114.1,1415.33 115.37,1403.36 116.78,1386.88 118.43,1362.88 122.4,1295.32 124.2,1257.77 125.27,1235.24 129.01,1173.7 130.46,1154.2 131.73,1140.73 133,1130.28 134.34,1121.36 135.7,1113.95 137.36,1106.58 138.18,1103.66 139.19,1100.9 139.84,1099.53 140.6,1098.17 141.48,1096.86 142.43,1095.68 143.45,1094.7 144.62,1093.82 145.95,1093 147.38,1092.34 149.05,1091.9 153.21,1091.48 157.79,1091.24 574.35,1091.2 L578.85,1091.2 162.29,1091.24 157.71,1091.48 153.55,1091.9 151.88,1092.34 150.45,1093 149.12,1093.82 147.95,1094.7 146.93,1095.68 145.98,1096.86 145.1,1098.17 144.34,1099.53 143.69,1100.9 142.68,1103.66 141.86,1106.58 140.2,1113.95 138.84,1121.36 137.5,1130.28 136.23,1140.73 134.96,1154.2 133.51,1173.7 129.77,1235.24 128.7,1257.77 126.9,1295.32 122.93,1362.88 121.28,1386.88 119.87,1403.36 118.6,1415.33 117.19,1425.77 116.17,1431.71 114.85,1437.64 113.97,1440.67 113.43,1442.05 112.79,1443.27 111.94,1444.39 110.74,1445.48 109.38,1446.3 108.45,1446.6 105.07,1447.03 101.98,1447.19 91.45,1447.2Z" fill="#e41a1c"/>
<path class="bd" d="M89.2,1444.95 116.31,1444.94 120.9,1444.76 125.4,1444.37 127.3,1444.15 128.27,1443.96 129.68,1443.45 131.07,1442.75 133.68,1441.07 134.86,1440.21 135.98,1439.26 137.06,1438.21 139.1,1435.9 141.81,1432.26 143.44,1429.76 145.68,1425.8 148.5,1420.15 150.87,1414.91 153.7,1407.92 156.84,1399.45 160.23,1389.47 164.3,1376.54 169.37,1359.19 175.79,1335.97 184.3,1305.51 188.52,1291.05 190.38,1283.76 195.34,1261.72 198.53,1248.54 200.93,1239.84 204.03,1229.76 207.46,1219.79 211.11,1209.9 215.56,1198.71 219.13,1190.41 222.37,1183.61 225.85,1176.93 229.49,1170.34 232.59,1165.16 234.5,1162.35 236.13,1160.32 239.2,1156.98 242.41,1153.8 248,1148.75 251.09,1145.46 257.11,1138.71 260.2,1135.42 263.5,1132.35 266.98,1129.46 271.77,1125.8 275.47,1123.19 279.6,1120.55 283.2,1118.53 288.59,1115.83 294.08,1113.34 298.3,1111.74 304.03,1109.88 312.72,1107.39 320.02,1105.5 324.8,1104.45 335,1102.75 337.75,1102.08 342.11,1100.88 345.05,1100.28 351.01,1099.41 371.97,1096.99 383.96,1095.85 398.98,1094.76 427.55,1093.16 441.09,1092.6 465.18,1092.15 541.97,1090.83 576.6,1090.35 L576.6,1094.85 541.97,1095.33 465.18,1096.65 441.09,1097.1 427.55,1097.66 398.98,1099.26 383.96,1100.35 371.97,1101.49 351.01,1103.91 345.05,1104.78 342.11,1105.38 337.75,1106.58 335,1107.25 324.8,1108.95 320.02,1110 312.72,1111.89 304.03,1114.38 298.3,1116.24 294.08,1117.84 288.59,1120.33 283.2,1123.03 279.6,1125.05 275.47,1127.69 271.77,1130.3 266.98,1133.96 263.5,1136.85 260.2,1139.92 257.11,1143.21 251.09,1149.96 248,1153.25 242.41,1158.3 239.2,1161.48 236.13,1164.82 234.5,1166.85 232.59,1169.66 229.49,1174.84 225.85,1181.43 222.37,1188.11 219.13,1194.91 215.56,1203.21 211.11,1214.4 207.46,1224.29 204.03,1234.26 200.93,1244.34 198.53,1253.04 195.34,1266.22 190.38,1288.26 188.52,1295.55 184.3,1310.01 175.79,1340.47 169.37,1363.69 164.3,1381.04 160.23,1393.97 156.84,1403.95 153.7,1412.42 150.87,1419.41 148.5,1424.65 145.68,1430.3 143.44,1434.26 141.81,1436.76 139.1,1440.4 137.06,1442.71 135.98,1443.76 134.86,1444.71 133.68,1445.57 131.07,1447.25 129.68,1447.95 128.27,1448.46 127.3,1448.65 125.4,1448.87 120.9,1449.26 116.31,1449.44 89.2,1449.45Z" fill="#377eb8"/>
<path class="bd" d="M86.95,1447.2 114.06,1447.19 118.65,1447.01 123.15,1446.62 125.05,1446.4 126.02,1446.21 127.43,1445.7 128.82,1445 131.43,1443.32 132.61,1442.46 133.73,1441.51 134.81,1440.46 136.85,1438.15 139.56,1434.51 141.19,1432.01 143.43,1428.05 146.25,1422.4 148.62,1417.16 151.45,1410.17 154.59,1401.7 157.98,1391.72 162.05,1378.79 167.12,1361.44 173.54,1338.22 182.05,1307.76 186.27,1293.3 188.13,1286.01 193.09,1263.97 196.28,1250.79 198.68,1242.09 201.78,1232.01 205.21,1222.04 208.86,1212.15 213.31,1200.96 216.88,1192.66 220.12,1185.86 223.6,1179.18 227.24,1172.59 230.34,1167.41 232.25,1164.6 233.88,1162.57 236.95,1159.23 240.16,1156.05 245.75,1151 248.84,1147.71 254.86,1140.96 257.95,1137.67 261.25,1134.6 264.73,1131.71 269.52,1128.05 273.22,1125.44 277.35,1122.8 280.95,1120.78 286.34,1118.08 291.83,1115.59 296.05,1113.99 301.78,1112.13 310.47,1109.64 317.77,1107.75 322.55,1106.7 332.75,1105 335.5,1104.33 339.86,1103.13 342.8,1102.53 348.76,1101.66 369.72,1099.24 381.71,1098.1 396.73,1097.01 425.3,1095.41 438.84,1094.85 462.93,1094.4 539.72,1093.08 574.35,1092.6 L578.85,1092.6 544.22,1093.08 467.43,1094.4 443.34,1094.85 429.8,1095.41 401.23,1097.01 386.21,1098.1 374.22,1099.24 353.26,1101.66 347.3,1102.53 344.36,1103.13 340,1104.33 337.25,1105 327.05,1106.7 322.27,1107.75 314.97,1109.64 306.28,1112.13 300.55,1113.99 296.33,1115.59 290.84,1118.08 285.45,1120.78 281.85,1122.8 277.72,1125.44 274.02,1128.05 269.23,1131.71 265.75,1134.6 262.45,1137.67 259.36,1140.96 253.34,1147.71 250.25,1151 244.66,1156.05 241.45,1159.23 238.38,1162.57 236.75,1164.6 234.84,1167.41 231.74,1172.59 228.1,1179.18 224.62,1185.86 221.38,1192.66 217.81,1200.96 213.36,1212.15 209.71,1222.04 206.28,1232.01 203.18,1242.09 200.78,1250.79 197.59,1263.97 192.63,1286.01 190.77,1293.3 186.55,1307.76 178.04,1338.22 171.62,1361.44 166.55,1378.79 162.48,1391.72 159.09,1401.7 155.95,1410.17 153.12,1417.16 150.75,1422.4 147.93,1428.05 145.69,1432.01 144.06,1434.51 141.35,1438.15 139.31,1440.46 138.23,1441.51 137.11,1442.46 135.93,1443.32 133.32,1445 131.93,1445.7 130.52,1446.21 129.55,1446.4 127.65,1446.62 123.15,1447.01 118.56,1447.19 91.45,1447.2Z" fill="#377eb8"/>
<path class="bd" d="M89.2,1444.95 122.27,1444.93 128.3,1444.65 134.4,1444.15 137.27,1443.76 140.25,1443.13 143.15,1442.33 144.53,1441.87 145.9,1441.29 147.24,1440.58 148.54,1439.77 151.3,1437.75 153.24,1436.05 155.34,1433.84 157.27,1431.48 159.01,1429.07 160.6,1426.55 162.78,1422.57 166.09,1415.79 169.13,1408.92 171.91,1401.92 174.45,1394.86 177.67,1384.83 181.56,1371.87 184.3,1361.71 187.1,1350.02 190.98,1332.4 196.78,1304.43 204.32,1269.15 206.2,1258.8 208.51,1245.47 212,1227.77 216,1208.64 218.74,1196.93 222.12,1183.83 226.62,1167.92 230.12,1156.42 237.24,1135.02 239.38,1129.41 242.41,1122.52 245.01,1117.09 246.5,1114.35 248.87,1110.66 253.31,1104.56 255.21,1102.22 257.28,1100.08 259.53,1098 260.72,1097.04 261.95,1096.16 263.5,1095.25 265.87,1094.17 268.73,1093.12 271.66,1092.28 276.05,1091.31 280.52,1090.58 287.99,1089.83 294,1089.43 312.03,1089.09 336.08,1088.95 576.6,1088.95 L576.6,1093.45 336.08,1093.45 312.03,1093.59 294,1093.93 287.99,1094.33 280.52,1095.08 276.05,1095.81 271.66,1096.78 268.73,1097.62 265.87,1098.67 263.5,1099.75 261.95,1100.66 260.72,1101.54 259.53,1102.5 257.28,1104.58 255.21,1106.72 253.31,1109.06 248.87,1115.16 246.5,1118.85 245.01,1121.59 242.41,1127.02 239.38,1133.91 237.24,1139.52 230.12,1160.92 226.62,1172.42 222.12,1188.33 218.74,1201.43 216,1213.14 212,1232.27 208.51,1249.97 206.2,1263.3 204.32,1273.65 196.78,1308.93 190.98,1336.9 187.1,1354.52 184.3,1366.21 181.56,1376.37 177.67,1389.33 174.45,1399.36 171.91,1406.42 169.13,1413.42 166.09,1420.29 162.78,1427.07 160.6,1431.05 159.01,1433.57 157.27,1435.98 155.34,1438.34 153.24,1440.55 151.3,1442.25 148.54,1444.27 147.24,1445.08 145.9,1445.79 144.53,1446.37 143.15,1446.83 140.25,1447.63 137.27,1448.26 134.4,1448.65 128.3,1449.15 122.27,1449.43 89.2,1449.45Z" fill="#4daf4a"/>
<path class="bd" d="M86.95,1447.2 120.02,1447.18 126.05,1446.9 132.15,1446.4 135.02,1446.01 138,1445.38 140.9,1444.58 142.28,1444.12 143.65,1443.54 144.99,1442.83 146.29,1442.02 149.05,1440 150.99,1438.3 153.09,1436.09 155.02,1433.73 156.76,1431.32 158.35,1428.8 160.53,1424.82 163.84,1418.04 166.88,1411.17 169.66,1404.17 172.2,1397.11 175.42,1387.08 179.31,1374.12 182.05,1363.96 184.85,1352.27 188.73,1334.65 194.53,1306.68 202.07,1271.4 203.95,1261.05 206.26,1247.72 209.75,1230.02 213.75,1210.89 216.49,1199.18 219.87,1186.08 224.37,1170.17 227.87,1158.67 234.99,1137.27 237.13,1131.66 240.16,1124.77 242.76,1119.34 244.25,1116.6 246.62,1112.91 251.06,1106.81 252.96,1104.47 255.03,1102.33 257.28,1100.25 258.47,1099.29 259.7,1098.41 261.25,1097.5 263.62,1096.42 266.48,1095.37 269.41,1094.53 273.8,1093.56 278.27,1092.83 285.74,1092.08 291.75,1091.68 309.78,1091.34 333.83,1091.2 574.35,1091.2 L578.85,1091.2 338.33,1091.2 314.28,1091.34 296.25,1091.68 290.24,1092.08 282.77,1092.83 278.3,1093.56 273.91,1094.53 270.98,1095.37 268.12,1096.42 265.75,1097.5 264.2,1098.41 262.97,1099.29 261.78,1100.25 259.53,1102.33 257.46,1104.47 255.56,1106.81 251.12,1112.91 248.75,1116.6 247.26,1119.34 244.66,1124.77 241.63,1131.66 239.49,1137.27 232.37,1158.67 228.87,1170.17 224.37,1186.08 220.99,1199.18 218.25,1210.89 214.25,1230.02 210.76,1247.72 208.45,1261.05 206.57,1271.4 199.03,1306.68 193.23,1334.65 189.35,1352.27 186.55,1363.96 183.81,1374.12 179.92,1387.08 176.7,1397.11 174.16,1404.17 171.38,1411.17 168.34,1418.04 165.03,1424.82 162.85,1428.8 161.26,1431.32 159.52,1433.73 157.59,1436.09 155.49,1438.3 153.55,1440 150.79,1442.02 149.49,1442.83 148.15,1443.54 146.78,1444.12 145.4,1444.58 142.5,1445.38 139.52,1446.01 136.65,1446.4 130.55,1446.9 124.52,1447.18 91.45,1447.2Z" fill="#4daf4a"/>
</g>
<line class="vl" x1="243.9" x2="243.9" y1="1465.35" y2="1071.9" stroke="#ff0000"/>
</g>
<path class="bx" d="M89.2,1465 V1073.9 H577.4"/>
<path class="bx2" d="M88.4,1464.4 H576.65 V1073.1"/>
<line class="lk" x1="424.5" x2="450.1" y1="1360.1" y2="1360.1" stroke="#e41a1c"/>
<text class="lg" transform="translate(457.8 1370.2) scale(1.005 1.04)">Teens</text>
<line class="lk" x1="424.5" x2="450.1" y1="1392.15" y2="1392.15" stroke="#377eb8"/>
<text class="lg" transform="translate(457.8 1402.25) scale(1.005 1.04)">Children</text>
<line class="lk" x1="424.5" x2="450.1" y1="1424.2" y2="1424.2" stroke="#4daf4a"/>
<text class="lg" transform="translate(457.8 1434.3) scale(1.005 1.04)">Adults</text>
</g>
</svg>
</body></html>
